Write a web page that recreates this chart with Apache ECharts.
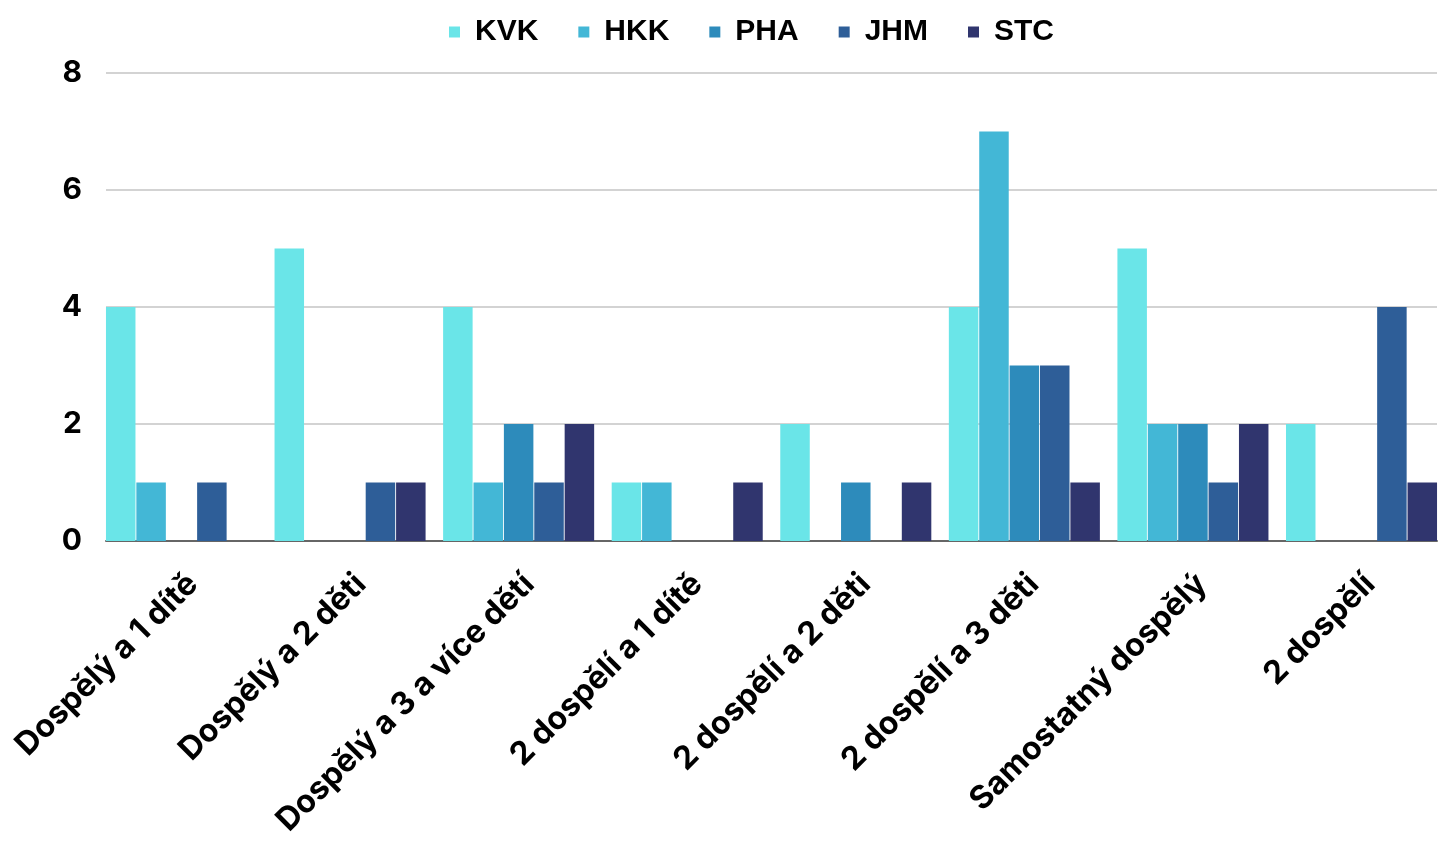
<!DOCTYPE html>
<html>
<head>
<meta charset="utf-8">
<script src="https://cdn.jsdelivr.net/npm/echarts@6/dist/echarts.min.js"></script>
<style>
html,body{margin:0;padding:0;background:#fff;}
#chart{width:1454px;height:845px;}
</style>
</head>
<body>
<div id="chart"></div>
<script>
const categories = ['Dospělý a 1 dítě','Dospělý a 2 děti','Dospělý a 3 a více dětí','2 dospělí a 1 dítě','2 dospělí a 2 děti','2 dospělí a 3 děti','Samostatný dospělý','2 dospělí'];
const seriesNames = ['KVK','HKK','PHA','JHM','STC'];
const KVK = [4,5,4,1,2,4,5,2];
const HKK = [1,0,1,1,0,7,2,0];
const PHA = [0,0,2,0,1,3,2,0];
const JHM = [1,1,1,0,0,3,1,4];
const STC = [0,1,2,1,1,1,2,1];
const yTicks = [0,2,4,6,8];
const colors = ['#6ae5e8','#43b7d6','#2d8bbb','#2e5e98','#30356e'];
const values = [KVK,HKK,PHA,JHM,STC];

const chart = echarts.init(document.getElementById('chart'));
const labelFont = 'Inter, "Noto Sans", sans-serif';
chart.setOption({
  animation:false,
  color: colors,
  legend:{
    top:12, left:444,
    icon:'rect', itemWidth:11, itemHeight:11, itemGap:40,
    textStyle:{fontFamily:'"Liberation Sans", Arial, sans-serif', fontWeight:'bold', fontSize:30, color:'#000', padding:[0,0,0,10]},
    data: seriesNames
  },
  grid:[
    {left:97.2, right:8.2, top:73, bottom:304},
    {left:106, right:17, top:73, bottom:304},
    {left:108.7, width:1348.6, top:73, bottom:304}
  ],
  xAxis:[
    {type:'category', gridIndex:0, data:categories, axisLine:{show:false}, axisTick:{show:false}, axisLabel:{show:false}, splitLine:{show:false}},
    {type:'category', gridIndex:1, data:categories, axisLine:{show:true, lineStyle:{color:'#666', width:2}}, axisTick:{show:false}, axisLabel:{show:false}},
    {type:'category', gridIndex:2, data:categories, axisLine:{show:false}, axisTick:{show:false},
     axisLabel:{rotate:45, interval:0, margin:38, fontFamily:labelFont, fontWeight:700, fontSize:32, color:'#000'}}
  ],
  yAxis:[
    {type:'value', gridIndex:0, min:yTicks[0], max:yTicks[yTicks.length-1], interval:2, show:false, splitLine:{show:false}},
    {type:'value', gridIndex:1, min:yTicks[0], max:yTicks[yTicks.length-1], interval:2,
     axisLine:{show:false}, axisTick:{show:false},
     axisLabel:{margin:24, fontFamily:labelFont, fontWeight:700, fontSize:30, color:'#000'},
     splitLine:{lineStyle:{color:'#c4c4c4', width:1.5}}},
    {type:'value', gridIndex:2, min:yTicks[0], max:yTicks[yTicks.length-1], interval:2, show:false, splitLine:{show:false}}
  ],
  series: seriesNames.map((n,i)=>({
    name:n, type:'bar', xAxisIndex:0, yAxisIndex:0,
    data: values[i],
    barGap:'3%', barCategoryGap:'10.4%',
    itemStyle:{color:colors[i]}
  }))
});
</script>
</body>
</html>
